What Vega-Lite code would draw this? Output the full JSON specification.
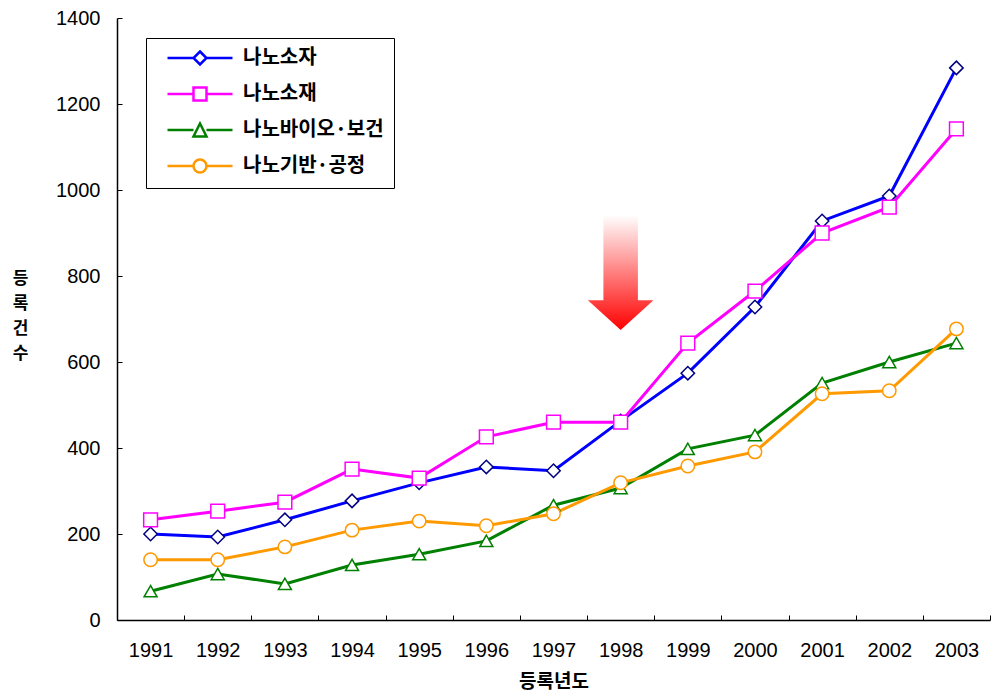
{
  "$schema": "https://vega.github.io/schema/vega-lite/v6.json",
  "width": 873,
  "height": 602,
  "autosize": {"type": "none"},
  "padding": {"left": 117, "top": 18, "right": 4, "bottom": 71},
  "background": "white",
  "config": {"view": {"stroke": null}, "font": "Liberation Sans"},
  "datasets": {
    "patents": [
      {"year": "1991", "series": "나노소자", "value": 200},
      {"year": "1992", "series": "나노소자", "value": 193},
      {"year": "1993", "series": "나노소자", "value": 233},
      {"year": "1994", "series": "나노소자", "value": 277},
      {"year": "1995", "series": "나노소자", "value": 319},
      {"year": "1996", "series": "나노소자", "value": 356},
      {"year": "1997", "series": "나노소자", "value": 347},
      {"year": "1998", "series": "나노소자", "value": 463},
      {"year": "1999", "series": "나노소자", "value": 574},
      {"year": "2000", "series": "나노소자", "value": 728},
      {"year": "2001", "series": "나노소자", "value": 928},
      {"year": "2002", "series": "나노소자", "value": 986},
      {"year": "2003", "series": "나노소자", "value": 1284},
      {"year": "1991", "series": "나노소재", "value": 233},
      {"year": "1992", "series": "나노소재", "value": 253},
      {"year": "1993", "series": "나노소재", "value": 274},
      {"year": "1994", "series": "나노소재", "value": 351},
      {"year": "1995", "series": "나노소재", "value": 330},
      {"year": "1996", "series": "나노소재", "value": 426},
      {"year": "1997", "series": "나노소재", "value": 460},
      {"year": "1998", "series": "나노소재", "value": 460},
      {"year": "1999", "series": "나노소재", "value": 644},
      {"year": "2000", "series": "나노소재", "value": 765},
      {"year": "2001", "series": "나노소재", "value": 900},
      {"year": "2002", "series": "나노소재", "value": 960},
      {"year": "2003", "series": "나노소재", "value": 1142},
      {"year": "1991", "series": "나노바이오·보건", "value": 67},
      {"year": "1992", "series": "나노바이오·보건", "value": 107},
      {"year": "1993", "series": "나노바이오·보건", "value": 84},
      {"year": "1994", "series": "나노바이오·보건", "value": 128},
      {"year": "1995", "series": "나노바이오·보건", "value": 153},
      {"year": "1996", "series": "나노바이오·보건", "value": 184},
      {"year": "1997", "series": "나노바이오·보건", "value": 267},
      {"year": "1998", "series": "나노바이오·보건", "value": 307},
      {"year": "1999", "series": "나노바이오·보건", "value": 398},
      {"year": "2000", "series": "나노바이오·보건", "value": 430},
      {"year": "2001", "series": "나노바이오·보건", "value": 551},
      {"year": "2002", "series": "나노바이오·보건", "value": 600},
      {"year": "2003", "series": "나노바이오·보건", "value": 644},
      {"year": "1991", "series": "나노기반·공정", "value": 140},
      {"year": "1992", "series": "나노기반·공정", "value": 140},
      {"year": "1993", "series": "나노기반·공정", "value": 170},
      {"year": "1994", "series": "나노기반·공정", "value": 209},
      {"year": "1995", "series": "나노기반·공정", "value": 230},
      {"year": "1996", "series": "나노기반·공정", "value": 219},
      {"year": "1997", "series": "나노기반·공정", "value": 247},
      {"year": "1998", "series": "나노기반·공정", "value": 319},
      {"year": "1999", "series": "나노기반·공정", "value": 358},
      {"year": "2000", "series": "나노기반·공정", "value": 391},
      {"year": "2001", "series": "나노기반·공정", "value": 526},
      {"year": "2002", "series": "나노기반·공정", "value": 533},
      {"year": "2003", "series": "나노기반·공정", "value": 677}
    ],
    "marker": [{"year": "1998", "value": 808}]
  },
  "layer": [
    {
      "data": {"name": "marker"},
      "mark": {
        "type": "point",
        "shape": "M-0.3,-1L0.3,-1L0.3,0.48L0.57,0.48L0,1L-0.57,0.48L-0.3,0.48Z",
        "size": 13225,
        "filled": true,
        "opacity": 1,
        "strokeWidth": 0,
        "fill": {
          "gradient": "linear",
          "x1": 0, "y1": 0, "x2": 0, "y2": 1,
          "stops": [
            {"offset": 0, "color": "#ffffff"},
            {"offset": 1, "color": "#ff0000"}
          ]
        }
      },
      "encoding": {
        "x": {"field": "year", "type": "ordinal"},
        "y": {"field": "value", "type": "quantitative"}
      }
    },
    {
      "data": {"name": "patents"},
      "mark": {"type": "line", "strokeWidth": 3},
      "encoding": {
        "x": {
          "field": "year",
          "type": "ordinal",
          "scale": {"type": "band", "paddingInner": 0, "paddingOuter": 0},
          "axis": {
            "title": "등록년도",
            "labelAngle": 0,
            "labelAlign": "center",
            "tickBand": "extent",
            "tickSize": -5,
            "tickColor": "black",
            "domainColor": "black",
            "domainWidth": 1.5,
            "labelFont": "Liberation Sans",
            "labelFontSize": 20,
            "labelColor": "black",
            "labelPadding": 35,
            "titleFont": "Noto Sans CJK KR",
            "titleFontSize": 19,
            "titleFontWeight": "bold",
            "titleColor": "black",
            "titleBaseline": "alphabetic",
            "titleY": 67
          }
        },
        "y": {
          "field": "value",
          "type": "quantitative",
          "scale": {"domain": [0, 1400], "nice": false},
          "axis": {
            "title": ["등", "록", "건", "수"],
            "values": [0, 200, 400, 600, 800, 1000, 1200, 1400],
            "format": "d",
            "grid": false,
            "tickSize": -5,
            "tickColor": "black",
            "domainColor": "black",
            "domainWidth": 1.5,
            "labelFont": "Liberation Sans",
            "labelFontSize": 20,
            "labelColor": "black",
            "labelPadding": 22,
            "titleFont": "Noto Sans CJK KR",
            "titleFontSize": 17,
            "titleFontWeight": "bold",
            "titleColor": "black",
            "titleAngle": 0,
            "titleAlign": "center",
            "titleBaseline": "middle",
            "titleLineHeight": 25,
            "titleX": -97,
            "titleY": 260
          }
        },
        "color": {
          "field": "series",
          "type": "nominal",
          "sort": ["나노소자", "나노소재", "나노바이오·보건", "나노기반·공정"],
          "scale": {
            "domain": ["나노소자", "나노소재", "나노바이오·보건", "나노기반·공정"],
            "range": ["#0000ff", "#ff00ff", "#008000", "#ff9900"]
          },
          "legend": {
            "orient": "none",
            "legendX": 29,
            "legendY": 20,
            "title": null,
            "strokeColor": "black",
            "fillColor": "white",
            "padding": 10,
            "labelFont": "Noto Sans CJK KR",
            "labelFontSize": 20,
            "labelFontWeight": "bold",
            "labelColor": "black",
            "symbolSize": 169,
            "symbolStrokeWidth": 2.5,
            "symbolOffset": 34,
            "labelOffset": 33,
            "rowPadding": 12,
            "encode": {
              "symbols": {
                "update": {
                  "shape": {"signal": "datum.value === '나노소자' ? 'M-5,0L-1,0M1,0L5,0M0,-1L1,0L0,1L-1,0Z' : datum.value === '나노소재' ? 'M-5,0L-1,0M1,0L5,0M-1,-1L1,-1L1,1L-1,1Z' : datum.value === '나노바이오·보건' ? 'M-5,0L-1,0M1,0L5,0M0,-1L1,1L-1,1Z' : 'M-5,0L-1,0M1,0L5,0M-1,0A1,1 0 1,0 1,0A1,1 0 1,0 -1,0Z'"},
                  "fill": {"value": "white"},
                  "fillOpacity": {"value": 1},
                  "opacity": {"value": 1}
                }
              }
            }
          }
        }
      }
    },
    {
      "data": {"name": "patents"},
      "transform": [{"filter": "datum.series === '나노소자'"}],
      "mark": {"type": "point", "shape": "diamond", "filled": false, "fill": "white", "fillOpacity": 1, "opacity": 1, "stroke": "#000080", "strokeWidth": 1.5, "size": 180},
      "encoding": {
        "x": {"field": "year", "type": "ordinal"},
        "y": {"field": "value", "type": "quantitative"}
      }
    },
    {
      "data": {"name": "patents"},
      "transform": [{"filter": "datum.series === '나노소재'"}],
      "mark": {"type": "point", "shape": "square", "filled": false, "fill": "white", "fillOpacity": 1, "opacity": 1, "stroke": "#ff00ff", "strokeWidth": 1.5, "size": 190},
      "encoding": {
        "x": {"field": "year", "type": "ordinal"},
        "y": {"field": "value", "type": "quantitative"}
      }
    },
    {
      "data": {"name": "patents"},
      "transform": [{"filter": "datum.series === '나노바이오·보건'"}],
      "mark": {"type": "point", "shape": "triangle-up", "filled": false, "fill": "white", "fillOpacity": 1, "opacity": 1, "stroke": "#008000", "strokeWidth": 1.5, "size": 170},
      "encoding": {
        "x": {"field": "year", "type": "ordinal"},
        "y": {"field": "value", "type": "quantitative"}
      }
    },
    {
      "data": {"name": "patents"},
      "transform": [{"filter": "datum.series === '나노기반·공정'"}],
      "mark": {"type": "point", "shape": "circle", "filled": false, "fill": "white", "fillOpacity": 1, "opacity": 1, "stroke": "#ff9900", "strokeWidth": 1.5, "size": 180},
      "encoding": {
        "x": {"field": "year", "type": "ordinal"},
        "y": {"field": "value", "type": "quantitative"}
      }
    }
  ]
}
